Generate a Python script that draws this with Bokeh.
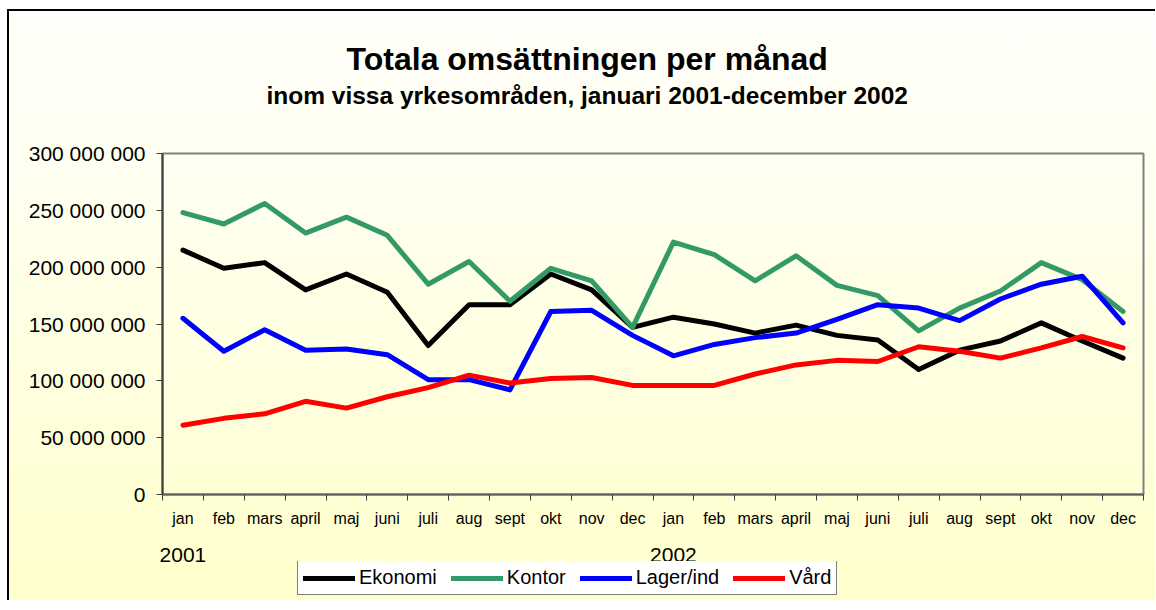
from bokeh.plotting import figure
from bokeh.layouts import column
from bokeh.models import FixedTicker, LinearAxis, Legend, LegendItem, Range1d
from bokeh.embed import file_html
from bokeh.resources import INLINE

# ---------------- data ----------------
months = ["jan", "feb", "mars", "april", "maj", "juni", "juli", "aug", "sept", "okt", "nov", "dec",
          "jan", "feb", "mars", "april", "maj", "juni", "juli", "aug", "sept", "okt", "nov", "dec"]
year_labels = {0: "2001", 12: "2002"}

ekonomi = [215000000, 199000000, 204000000, 180000000, 194000000, 178000000,
           131000000, 167000000, 167000000, 194000000, 180000000, 147000000,
           156000000, 150000000, 142000000, 149000000, 140000000, 136000000,
           110000000, 127000000, 135000000, 151000000, 135000000, 120000000]
kontor = [248000000, 238000000, 256000000, 230000000, 244000000, 228000000,
          185000000, 205000000, 170000000, 199000000, 188000000, 147000000,
          222000000, 211000000, 188000000, 210000000, 184000000, 175000000,
          144000000, 164000000, 179000000, 204000000, 189000000, 161000000]
lager = [155000000, 126000000, 145000000, 127000000, 128000000, 123000000,
         101000000, 101000000, 92000000, 161000000, 162000000, 140000000,
         122000000, 132000000, 138000000, 142000000, 154000000, 167000000,
         164000000, 153000000, 172000000, 185000000, 192000000, 151000000]
vard = [61000000, 67000000, 71000000, 82000000, 76000000, 86000000,
        94000000, 105000000, 98000000, 102000000, 103000000, 96000000,
        96000000, 96000000, 106000000, 114000000, 118000000, 117000000,
        130000000, 126000000, 120000000, 129000000, 139000000, 129000000]

series_names = ["Ekonomi", "Kontor", "Lager/ind", "Vård"]
series_colors = ["#000000", "#339966", "#0000FF", "#FF0000"]

y_ticks = [0, 50000000, 100000000, 150000000, 200000000, 250000000, 300000000]
y_tick_labels = ["0", "50 000 000", "100 000 000", "150 000 000",
                 "200 000 000", "250 000 000", "300 000 000"]

title_text = "Totala omsättningen per månad"
subtitle_text = "inom vissa yrkesområden, januari 2001-december 2002"

FONT = "Liberation Sans"

# ---------------- layout (pixels) ----------------
W = 1146
H1, H2 = 519, 70
BORDER_L, BORDER_R = 153, 12
n = len(months)
xs = list(range(n))
frame_w = W - BORDER_L - BORDER_R
col_w = frame_w / n
title_center_px = 424.5          # title centre, measured from the frame's left edge
title_x = round(title_center_px / col_w - 0.5, 2)

x_range = Range1d(-0.5, n - 0.5)

# ================= main chart =================
p = figure(width=W, height=H1, output_backend="svg", toolbar_location=None,
           x_range=x_range, y_range=Range1d(y_ticks[0], y_ticks[-1]),
           min_border_left=BORDER_L, min_border_right=BORDER_R,
           min_border_top=142, min_border_bottom=36,
           x_axis_type=None, y_axis_type=None)
p.border_fill_alpha = 0
p.background_fill_alpha = 0
p.outline_line_color = "#808080"
p.outline_line_width = 2

# y axis
yaxis = LinearAxis(ticker=FixedTicker(ticks=y_ticks),
                   major_label_overrides={t: l for t, l in zip(y_ticks, y_tick_labels)})
yaxis.major_label_text_font = FONT
yaxis.major_label_text_font_size = "21px"
yaxis.major_label_text_color = "black"
yaxis.major_tick_out = 6
yaxis.major_tick_in = 0
yaxis.minor_tick_line_color = None
yaxis.major_label_standoff = 11
yaxis.axis_line_color = "#404040"
yaxis.axis_line_width = 2
yaxis.major_tick_line_color = "#404040"
p.add_layout(yaxis, "left")

# x axis (month labels centred, tick marks between categories)
xaxis = LinearAxis(ticker=FixedTicker(ticks=xs, minor_ticks=[i - 0.5 for i in range(n + 1)]),
                   major_label_overrides={i: m for i, m in enumerate(months)})
xaxis.major_label_text_font = FONT
xaxis.major_label_text_font_size = "16px"
xaxis.major_label_text_color = "black"
xaxis.major_tick_out = 0
xaxis.major_tick_in = 0
xaxis.minor_tick_out = 6
xaxis.minor_tick_in = 0
xaxis.minor_tick_line_color = "#404040"
xaxis.minor_tick_line_width = 1
xaxis.major_label_standoff = 9
xaxis.axis_line_color = "#606060"
xaxis.axis_line_width = 2
p.add_layout(xaxis, "below")

# grid
p.ygrid.ticker = FixedTicker(ticks=y_ticks)
p.ygrid.grid_line_color = "black"
p.ygrid.grid_line_width = 1
p.xgrid.grid_line_color = None

# lines
for data, color in zip([ekonomi, kontor, lager, vard], series_colors):
    p.line(xs, data, line_color=color, line_width=5, line_join="round", line_cap="round")

# titles (subtitle first = closest to the frame)
def title_axis(text, size, standoff):
    ax = LinearAxis(ticker=FixedTicker(ticks=[title_x]), major_label_overrides={title_x: text})
    ax.major_label_text_font = FONT
    ax.major_label_text_font_style = "bold"
    ax.major_label_text_font_size = size
    ax.major_label_text_color = "black"
    ax.axis_line_color = None
    ax.major_tick_line_color = None
    ax.minor_tick_line_color = None
    ax.major_tick_out = 0
    ax.major_tick_in = 0
    ax.major_label_standoff = standoff
    return ax

p.add_layout(title_axis(subtitle_text, "24.5px", 45), "above")
p.add_layout(title_axis(title_text, "32px", 2), "above")

# ================= year labels + legend band =================
p2 = figure(width=W, height=H2, output_backend="svg", toolbar_location=None,
            x_range=x_range, y_range=Range1d(-2, -1),
            min_border_left=BORDER_L, min_border_right=BORDER_R,
            min_border_top=31, min_border_bottom=0,
            x_axis_type=None, y_axis_type=None)
p2.border_fill_alpha = 0
p2.background_fill_alpha = 0
p2.outline_line_color = None
p2.xgrid.grid_line_color = None
p2.ygrid.grid_line_color = None

yearaxis = LinearAxis(ticker=FixedTicker(ticks=list(year_labels.keys())),
                      major_label_overrides=year_labels)
yearaxis.major_label_text_font = FONT
yearaxis.major_label_text_font_size = "21px"
yearaxis.major_label_text_color = "black"
yearaxis.axis_line_color = None
yearaxis.major_tick_line_color = None
yearaxis.minor_tick_line_color = None
yearaxis.major_tick_out = 0
yearaxis.major_tick_in = 0
yearaxis.major_label_standoff = 0
p2.add_layout(yearaxis, "above")

# the same series, outside this band's visible range: they only feed the legend
legend_renderers = []
for data, color in zip([ekonomi, kontor, lager, vard], series_colors):
    legend_renderers.append(p2.line(xs, data, line_color=color, line_width=5,
                                    line_join="round", line_cap="round"))

legend = Legend(items=[LegendItem(label=nm, renderers=[r])
                       for nm, r in zip(series_names, legend_renderers)],
                orientation="horizontal", location=(135, 5))
legend.label_text_font = FONT
legend.label_text_font_size = "20px"
legend.label_text_color = "black"
legend.glyph_width = 52
legend.glyph_height = 22
legend.label_height = 22
legend.label_standoff = 4
legend.spacing = 14
legend.padding = 5
legend.margin = 0
legend.border_line_color = "black"
legend.border_line_width = 1
legend.background_fill_color = "white"
legend.background_fill_alpha = 1
p2.add_layout(legend)

layout = column(p, p2, spacing=0)
layout.styles = {"margin-left": "7px", "margin-top": "9px",
                 "border-left": "2px solid black", "border-top": "2px solid black",
                 "background": "linear-gradient(180deg, #FFFFFB 0%, #FFFFF0 30%, #FFFFCC 100%)"}

open("out.html", "w").write(file_html(layout, INLINE))
